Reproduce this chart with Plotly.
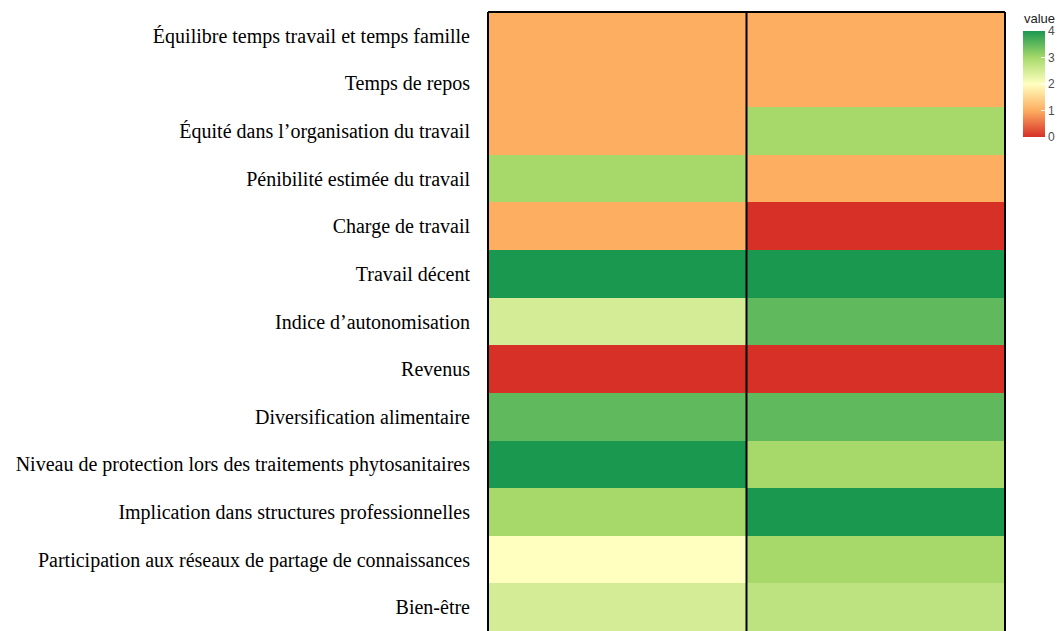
import plotly.graph_objects as go

# Indicateurs (de haut en bas)
indicateurs = [
    "Équilibre temps travail et temps famille",
    "Temps de repos",
    "Équité dans l\u2019organisation du travail",
    "Pénibilité estimée du travail",
    "Charge de travail",
    "Travail décent",
    "Indice d\u2019autonomisation",
    "Revenus",
    "Diversification alimentaire",
    "Niveau de protection lors des traitements phytosanitaires",
    "Implication dans structures professionnelles",
    "Participation aux réseaux de partage de connaissances",
    "Bien-être",
]

groupes = ["Groupe 1", "Groupe 2"]

# Scores (0 à 4) par groupe
score_groupe_1 = [1, 1, 1, 3, 1, 4, 2.5, 0, 3.5, 4, 3, 2, 2.5]
score_groupe_2 = [1, 1, 3, 1, 0, 4, 3.5, 0, 3.5, 3, 4, 3, 2.75]

z = [[a, b] for a, b in zip(score_groupe_1, score_groupe_2)]

echelle = [
    [0.00, "#d73027"],
    [0.25, "#fdae61"],
    [0.50, "#ffffbf"],
    [0.75, "#a6d96a"],
    [1.00, "#1a9850"],
]

W, H = 1061, 631
ML, MR, MT, MB = 488, 56, 12, 0
plot_w = W - ML - MR
plot_h = H - MT - MB

# position de la légende de couleur, en pixels
CB_X, CB_TOP, CB_LEN = 1023, 31, 106

fig = go.Figure(
    go.Heatmap(
        z=z,
        x=groupes,
        y=indicateurs,
        zmin=0,
        zmax=4,
        colorscale=echelle,
        hoverinfo="skip",
        colorbar=dict(
            x=(CB_X - ML) / plot_w,
            xanchor="left",
            xpad=0,
            y=(H - MB - CB_TOP) / plot_h,
            yanchor="top",
            ypad=0,
            len=CB_LEN,
            lenmode="pixels",
            thickness=22,
            outlinewidth=0,
            tickvals=[0, 1, 2, 3, 4],
            ticks="inside",
            ticklen=4,
            tickcolor="white",
            tickfont=dict(family="Liberation Sans, Arial", size=12, color="#4d4d4d"),
        ),
    )
)

# Titre de la légende de couleur
fig.add_annotation(
    text="value",
    xref="paper", yref="paper",
    x=(CB_X - ML) / plot_w,
    y=(H - MB - 9) / plot_h,
    xanchor="left", yanchor="top",
    showarrow=False,
    xshift=-1,
    font=dict(family="Liberation Sans, Arial", size=13, color="#222222"),
)

# Bordure et séparation des deux colonnes
ligne = dict(color="black", width=2)
fig.add_shape(type="line", xref="paper", yref="paper", x0=0, x1=0, y0=0, y1=1, line=ligne)
fig.add_shape(type="line", xref="paper", yref="paper", x0=1, x1=1, y0=0, y1=1, line=ligne)
fig.add_shape(type="line", xref="paper", yref="paper", x0=0, x1=1, y0=1, y1=1, line=ligne)
fig.add_shape(type="line", xref="x", yref="paper", x0=0.5, x1=0.5, y0=0, y1=1, line=ligne)

fig.update_layout(
    width=W,
    height=H,
    margin=dict(l=ML, r=MR, t=MT, b=MB, pad=0),
    paper_bgcolor="white",
    plot_bgcolor="white",
    xaxis=dict(showticklabels=False, showgrid=False, zeroline=False, ticks=""),
    yaxis=dict(
        autorange="reversed",
        showgrid=False,
        zeroline=False,
        ticks="",
        ticklabelstandoff=17,
        tickfont=dict(family="Liberation Serif, Times New Roman", size=20, color="black"),
    ),
)

fig.write_html("out.html")
